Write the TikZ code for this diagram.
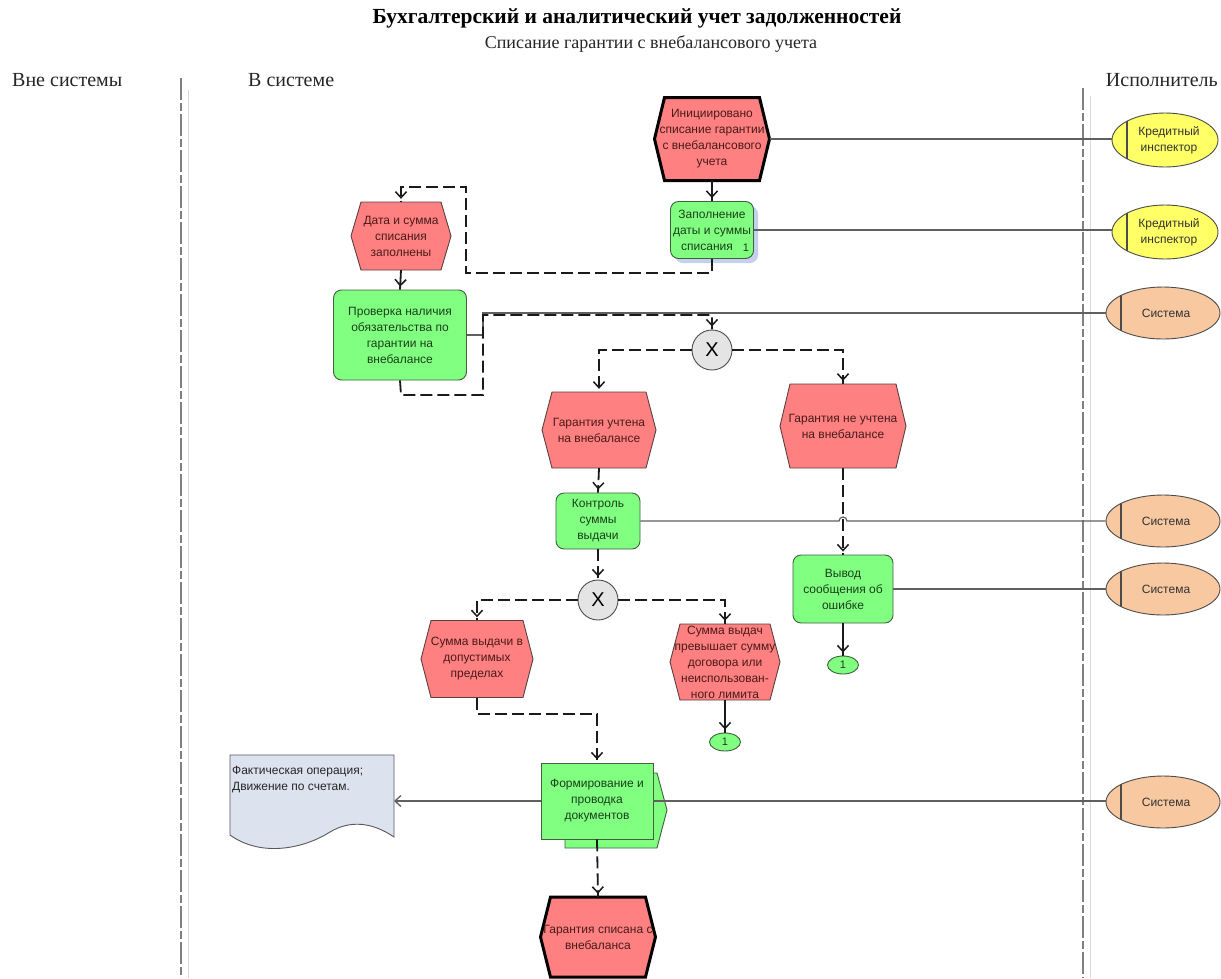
\documentclass[tikz,border=0pt]{standalone}
\usepackage{fontspec}
\setmainfont{Liberation Serif}
\newfontfamily\arialf{Liberation Sans}
\usetikzlibrary{arrows.meta,decorations.markings,shapes.geometric}
\definecolor{evfill}{HTML}{FF8080}
\definecolor{evborder}{HTML}{5A4040}
\definecolor{evtxt}{HTML}{4A1A1A}
\definecolor{fnfill}{HTML}{80FF80}
\definecolor{fnborder}{HTML}{406040}
\definecolor{fntxt}{HTML}{1A3F1A}
\definecolor{xorfill}{HTML}{E4E4E4}
\definecolor{kfill}{HTML}{FFFF66}
\definecolor{sfill}{HTML}{F8C8A0}
\definecolor{docfill}{HTML}{DCE3EE}
\definecolor{orgc}{HTML}{606060}
\definecolor{flowc}{HTML}{1A1A1A}
\definecolor{lanec}{HTML}{808080}
\definecolor{shadowc}{HTML}{C4D0EE}
\newcommand\evhex[7][]{%
  \draw[evshape,#1] (#3-#5/2+10,#4-#6/2) -- (#3+#5/2-10,#4-#6/2) -- (#3+#5/2,#4)
     -- (#3+#5/2-10,#4+#6/2) -- (#3-#5/2+10,#4+#6/2) -- (#3-#5/2,#4) -- cycle;
  \node[evtext,minimum width=#5,minimum height=#6] (#2) at (#3,#4) {#7};}
\begin{document}
\begin{tikzpicture}[x=1pt,y=-1pt,
  every node/.style={font=\arialf\fontsize{12}{16}\selectfont},
  tipY/.tip={Straight Barb[length=6pt,width=11pt,line width=1.5pt]},
  evshape/.style={fill=evfill,draw=evborder,line width=0.9pt,line join=miter},
  evthick/.style={draw=black,line width=3pt},
  evtext/.style={inner sep=0pt,align=center,text=evtxt},
  fn/.style={rectangle,rounded corners=8pt,fill=fnfill,draw=fnborder,line width=0.9pt,
     align=center,text=fntxt,inner sep=2pt},
  fnrect/.style={rectangle,fill=fnfill,draw=fnborder,line width=0.9pt,
     align=center,text=fntxt,inner sep=2pt,minimum width=112pt,minimum height=76pt},
  xorg/.style={circle,fill=xorfill,draw=black!70,line width=0.9pt,minimum size=40pt,
     inner sep=0pt,font=\arialf\fontsize{20}{20}\selectfont},
  conn/.style={ellipse,fill=fnfill,draw=fnborder,line width=0.9pt,minimum width=31pt,
     minimum height=18pt,inner sep=0pt,text=fntxt,font=\arialf\fontsize{11}{11}\selectfont},
  orgbar/.style={path picture={\draw[line width=1.3pt,draw=black!70]
     ([xshift=15pt]path picture bounding box.north west) --
     ([xshift=15pt]path picture bounding box.south west);}},
  orgK/.style={ellipse,fill=kfill,draw=black!70,line width=0.9pt,minimum width=106pt,
     minimum height=54pt,inner sep=0pt,align=center,orgbar,text=black!80},
  orgS/.style={ellipse,fill=sfill,draw=black!70,line width=0.9pt,minimum width=114pt,
     minimum height=52pt,inner sep=0pt,align=center,orgbar,text=black!80},
  orgline/.style={draw=orgc,line width=1.2pt},
  flowd/.style={draw=flowc,line width=1.8pt,dash pattern=on 12pt off 5pt,
     postaction=decorate,decoration={markings,mark=at position -3pt with {\arrow{tipY}}}},
  flows/.style={draw=flowc,line width=1.8pt,
     postaction=decorate,decoration={markings,mark=at position -3pt with {\arrow{tipY}}}},
  lane/.style={draw=lanec,line width=2pt,dash pattern=on 22pt off 3pt on 8pt off 3pt},
  lanethin/.style={draw=black!15,line width=0.8pt},
  hdr/.style={font=\fontsize{20}{22}\selectfont,inner sep=0pt,text=black!85}
]
\useasboundingbox (0,0) rectangle (1221,978);
\fill[white] (0,0) rectangle (1221,978);

% titles
\node[font=\bfseries\fontsize{21.5}{24}\selectfont,inner sep=0pt] (title) at (637,18) {Бухгалтерский и аналитический учет задолженностей};
\node[font=\fontsize{18}{20}\selectfont,inner sep=0pt,text=black!85] (subtitle) at (651,44) {Списание гарантии с внебалансового учета};
\node[hdr,anchor=west] (h1) at (12,80) {Вне системы};
\node[hdr,anchor=west] (h2) at (248,80) {В системе};
\node[hdr,anchor=east] (h3) at (1218,80) {Исполнитель};

% lanes
\draw[lanethin] (188,90) -- (188,978);
\draw[lane] (181,78) -- (181,978);
\draw[lanethin] (1090,96) -- (1090,978);
\draw[lane] (1083,88) -- (1083,978);

% shapes
\evhex[evthick]{e1}{712}{139}{115}{83}{Инициировано\\списание гарантии\\с внебалансового\\учета}
\fill[shadowc,rounded corners=8pt] (675,206) rectangle (758,263);
\node[fn,minimum width=83pt,minimum height=57pt] (f2) at (712,230) {Заполнение\\даты и суммы\\списания\phantom{ 1}};
\node[inner sep=0pt,text=fntxt,font=\arialf\fontsize{11}{11}\selectfont] (f2n) at (746,248) {1};
\evhex{e3}{401}{236}{100}{68}{Дата и сумма\\списания\\заполнены}
\node[fn,minimum width=133pt,minimum height=90pt] (f4) at (400,335) {Проверка наличия\\обязательства по\\гарантии на\\внебалансе};
\node[xorg] (x1) at (712,350) {X};
\evhex{e6}{599}{430}{114}{76}{Гарантия учтена\\на внебалансе}
\evhex{e7}{843}{426}{126}{84}{Гарантия не учтена\\на внебалансе}
\node[fn,minimum width=84pt,minimum height=56pt] (f8) at (598,521) {Контроль\\суммы\\выдачи};
\node[xorg] (x2) at (598,600) {X};
\node[fn,minimum width=100pt,minimum height=68pt] (f10) at (843,589) {Вывод\\сообщения об\\ошибке};
\node[conn] (c11) at (843,665) {1};
\evhex{e12}{477}{659}{112}{77}{Сумма выдачи в\\допустимых\\пределах}
\evhex{e13}{725}{662}{110}{76}{\fontsize{12}{14.5}\selectfont Сумма выдач\\превышает сумму\\договора или\\неиспользован-\\ного лимита}
\node[conn] (c14) at (725,742) {1};
\fill[fnfill,draw=fnborder,line width=0.9pt] (565,773) -- (657,773) -- (667,810) -- (657,848) -- (565,848) -- cycle;
\node[fnrect] (f15) at (597,801) {Формирование и\\проводка\\документов};
\evhex[evthick]{e17}{598}{937}{115}{80}{Гарантия списана с\\внебаланса}

% document
\path[fill=docfill,draw=black!65,line width=0.9pt] (230,755) -- (394,755) -- (394,837)
  .. controls (372,822) and (350,820) .. (330,832)
  .. controls (305,848) and (262,858) .. (230,835) -- cycle;
\node[anchor=base west,align=left,inner sep=0pt,text=black!85] (doc) at (232,790) {Фактическая операция;\\Движение по счетам.};
\coordinate (docE) at (394,801);

% org units
\node[orgK] (k1) at (1165,140) {\hspace*{8pt}Кредитный\\\hspace*{8pt}инспектор};
\node[orgK] (k2) at (1165,232) {\hspace*{8pt}Кредитный\\\hspace*{8pt}инспектор};
\node[orgS] (s1) at (1163,313) {\hspace*{6pt}Система};
\node[orgS] (s2) at (1163,521) {\hspace*{6pt}Система};
\node[orgS] (s3) at (1163,589) {\hspace*{6pt}Система};
\node[orgS] (s4) at (1163,802) {\hspace*{6pt}Система};

% org lines
\draw[orgline] (e1.east) -- (k1.west |- e1.east);
\draw[orgline] (f2.east) -- (k2.west |- f2.east);
\draw[orgline] (f4.east) -- (483,335) |- (s1.west);
\draw[orgline] (f8.east) -- (839,521) arc (180:360:4) -- (s2.west);
\draw[orgline] (f10.east) -- (s3.west);
\draw[orgline] (f15.east) -- (s4.west |- f15.east);
\draw[orgline,-{Straight Barb[length=6pt,width=11pt,line width=1.3pt]}] (f15.west) -- (docE);

% control flow
\draw[flows] (e1.south) -- (f2.north);
\draw[flowd] (f2.south) -- (712,273) -- (466,273) -- (466,187) -- (401,187) -- (e3.north);
\draw[flows] (e3.south) -- (f4.north);
\draw[flowd] (f4.south) -- (401,395) -- (483,395) -- (483,315) -- (712,315) -- (x1.north);
\draw[flowd] (x1.west) -| (e6.north);
\draw[flowd] (x1.east) -| (e7.north);
\draw[flowd] (e6.south) -- (f8.north);
\draw[flowd] (e7.south) -- (f10.north);
\draw[flowd] (f8.south) -- (x2.north);
\draw[flowd] (x2.west) -| (e12.north);
\draw[flowd] (x2.east) -| (e13.north);
\draw[flows] (e13.south) -- (c14.north);
\draw[flows] (f10.south) -- (c11.north);
\draw[flowd] (e12.south) -- (477,714) -| (f15.north);
\draw[flowd] (f15.south) -- (e17.north);
\end{tikzpicture}
\end{document}
